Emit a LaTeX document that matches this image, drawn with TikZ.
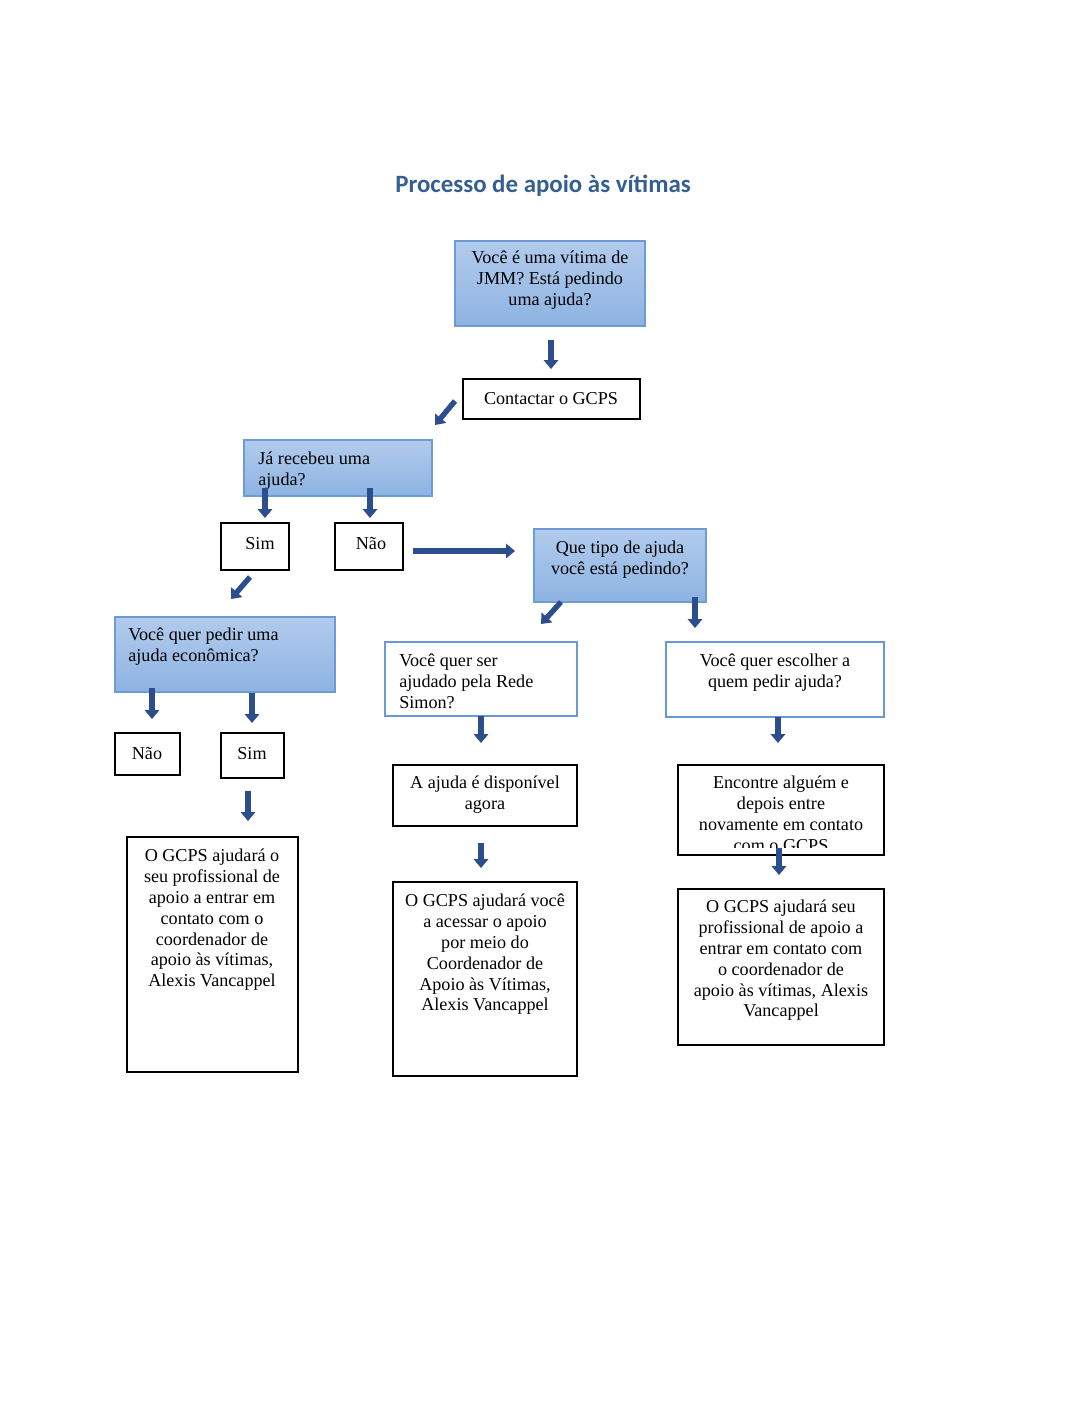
\documentclass[tikz,border=0pt]{standalone}
\usepackage{fontspec}
\setmainfont{Liberation Serif}
\newfontfamily\titlefont{Carlito}
\usetikzlibrary{arrows.meta,fit}
\definecolor{ttl}{RGB}{54,95,145}
\definecolor{ftop}{RGB}{178,203,237}
\definecolor{fbot}{RGB}{141,179,226}
\definecolor{fedge}{RGB}{110,155,212}
\definecolor{bedge}{RGB}{104,153,212}
\definecolor{arw}{RGB}{44,78,140}
\begin{document}
\begin{tikzpicture}[x=0.5625pt,y=-0.5625pt,
  qbox/.style={draw=fedge, line width=0.7pt, top color=ftop, bottom color=fbot, inner sep=0pt},
  wbox/.style={draw=black, line width=0.85pt, fill=white, inner sep=0pt},
  bbox/.style={draw=bedge, line width=1.4pt, fill=white, inner sep=0pt},
  txt/.style={inner sep=0pt, anchor=north, font=\fontsize{10.2}{11.7}\selectfont, execute at begin node=\strut},
  ctxt/.style={txt, align=center},
  ltxt/.style={txt, align=left, anchor=north west},
  barrow/.style={draw=arw, line width=3pt, -{Triangle[width=8pt,length=5pt]}}]
\useasboundingbox (0,0) rectangle (1088,1408);
\fill[white] (0,0) rectangle (1088,1408);

% title
\node[anchor=base, inner sep=0pt, font=\titlefont\bfseries\fontsize{14}{17}\selectfont, text=ttl] (title) at (543,192) {Processo de apoio às vítimas};

% boxes
\node[qbox, fit={(455,241) (645,326)}] (q1) {};
\node[wbox, fit={(463,379) (640,419)}] (b2) {};
\node[qbox, fit={(244,440) (432,496)}] (q3) {};
\node[wbox, fit={(221,523) (289,570)}] (b4) {};
\node[wbox, fit={(335,523) (403,570)}] (b5) {};
\node[qbox, fit={(534,529) (706,602)}] (q6) {};
\node[qbox, fit={(115,617) (335,692)}] (q7) {};
\node[wbox, fit={(115,733) (180,775)}] (b8) {};
\node[wbox, fit={(221,733) (284,778)}] (b9) {};
\node[wbox, fit={(127,837) (298,1072)}] (b10) {};
\node[bbox, fit={(385,642) (577,716)}] (b11) {};
\node[bbox, fit={(666,642) (884,717)}] (b12) {};
\node[wbox, fit={(393,765) (577,826)}] (b13) {};
\node[wbox, fit={(678,765) (884,855)}] (b14) {};
\node[wbox, fit={(393,882) (577,1076)}] (b15) {};
\node[wbox, fit={(678,889) (884,1045)}] (b16) {};

% texts
\node[ctxt] (t1) at (550,251) {Você é uma vítima de\\JMM? Está pedindo\\uma ajuda?};
\node[ctxt] (t2) at (551,390) {Contactar o GCPS};
\node[ltxt] (t3) at (258,452) {Já recebeu uma\\ajuda?};
\node[ctxt] (t4) at (260,535) {Sim};
\node[ctxt] (t5) at (371,535) {Não};
\node[ctxt] (t6) at (620,541) {Que tipo de ajuda\\você está pedindo?};
\node[ltxt] (t7) at (128,628) {Você quer pedir uma\\ajuda econômica?};
\node[ctxt] (t8) at (147,745) {Não};
\node[ctxt] (t9) at (252,745) {Sim};
\node[ctxt] (t10) at (212,849) {O GCPS ajudará o\\seu profissional de\\apoio a entrar em\\contato com o\\coordenador de\\apoio às vítimas,\\Alexis Vancappel};
\node[ltxt] (t11) at (399,654) {Você quer ser\\ajudado pela Rede\\Simon?};
\node[ctxt] (t12) at (775,654) {Você quer escolher a\\quem pedir ajuda?};
\node[ctxt] (t13) at (485,776) {A ajuda é disponível\\agora};
\begin{scope}
\clip (678,765) rectangle (884,847);
\node[ctxt] (t14) at (781,776) {Encontre alguém e\\depois entre\\novamente em contato\\com o GCPS};
\end{scope}
\node[ctxt] (t15) at (485,894) {O GCPS ajudará você\\a acessar o apoio\\por meio do\\Coordenador de\\Apoio às Vítimas,\\Alexis Vancappel};
\node[ctxt] (t16) at (781,900) {O GCPS ajudará seu\\profissional de apoio a\\entrar em contato com\\o coordenador de\\apoio às vítimas, Alexis\\Vancappel};

% arrow end points
\coordinate (a1s) at (551,340);  \coordinate (a1e) at (551,369);
\coordinate (a2s) at (455,401);  \coordinate (a2e) at (435,425);
\coordinate (a3s) at (265,488);  \coordinate (a3e) at (265,518);
\coordinate (a4s) at (370,488);  \coordinate (a4e) at (370,518);
\coordinate (a5s) at (413,551);  \coordinate (a5e) at (515,551);
\coordinate (a6s) at (250,577);  \coordinate (a6e) at (231,599);
\coordinate (a7s) at (561,602);  \coordinate (a7e) at (541,624);
\coordinate (a8s) at (695,597);  \coordinate (a8e) at (695,628);
\coordinate (a9s) at (152,688);  \coordinate (a9e) at (152,719);
\coordinate (a10s) at (252,693); \coordinate (a10e) at (252,723);
\coordinate (a11s) at (248,791); \coordinate (a11e) at (248,821);
\coordinate (a12s) at (481,716); \coordinate (a12e) at (481,743);
\coordinate (a13s) at (481,843); \coordinate (a13e) at (481,868);
\coordinate (a14s) at (778,717); \coordinate (a14e) at (778,743);
\coordinate (a15s) at (779,848); \coordinate (a15e) at (779,875);

\foreach \i in {1,...,15} {\draw[barrow] (a\i s) -- (a\i e);}
\end{tikzpicture}
\end{document}
